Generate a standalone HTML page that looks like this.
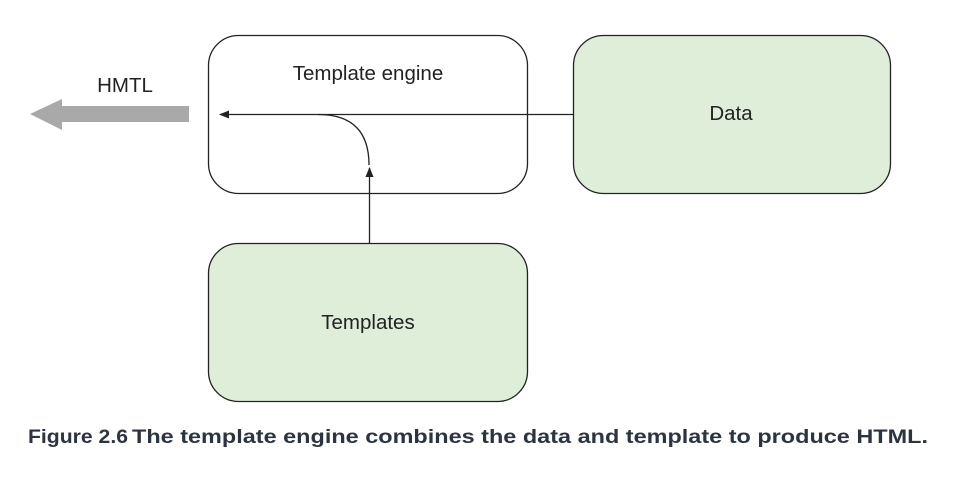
<!DOCTYPE html>
<html><head><style>
body{margin:0;background:#fff;width:972px;height:478px;overflow:hidden;}
</style></head><body>
<svg width="972" height="478" xmlns="http://www.w3.org/2000/svg" font-family="Liberation Sans, Arial, sans-serif">
<defs><marker id="a" markerWidth="10" markerHeight="8" refX="9" refY="4" orient="auto" markerUnits="userSpaceOnUse"><path d="M0,0 L10,4 L0,8 Z" fill="#222"/></marker></defs>
<rect x="208.5" y="35.5" width="319" height="158" rx="30" fill="#fff" stroke="#222" stroke-width="1.3"/>
<rect x="573.5" y="35.5" width="317" height="158" rx="30" fill="#deeed9" stroke="#222" stroke-width="1.3"/>
<rect x="208.5" y="243.5" width="319" height="158" rx="30" fill="#deeed9" stroke="#222" stroke-width="1.3"/>
<text x="368" y="80" font-size="20.5" text-anchor="middle" fill="#222">Template engine</text>
<text x="731" y="120" font-size="20.5" text-anchor="middle" fill="#222">Data</text>
<text x="368" y="329" font-size="20.5" text-anchor="middle" fill="#222">Templates</text>
<text x="125" y="92" font-size="20.5" text-anchor="middle" fill="#222">HMTL</text>
<line x1="573" y1="114.5" x2="220" y2="114.5" stroke="#222" stroke-width="1.3" marker-end="url(#a)"/>
<path d="M318,114.5 Q369,114.5 369,165" fill="none" stroke="#222" stroke-width="1.3"/>
<line x1="369.5" y1="243" x2="369.5" y2="168" stroke="#222" stroke-width="1.3" marker-end="url(#a)"/>
<path d="M189,106 L62,106 L62,99 L30,114 L62,130 L62,122 L189,122 Z" fill="#a9a9a9"/>
<text x="28" y="443" font-size="19.5" font-weight="bold" fill="#2b3440" textLength="100" lengthAdjust="spacingAndGlyphs">Figure 2.6</text>
<text x="132" y="443" font-size="19.5" font-weight="bold" fill="#2b3440" textLength="796" lengthAdjust="spacingAndGlyphs">The template engine combines the data and template to produce HTML.</text>
</svg>
</body></html>
